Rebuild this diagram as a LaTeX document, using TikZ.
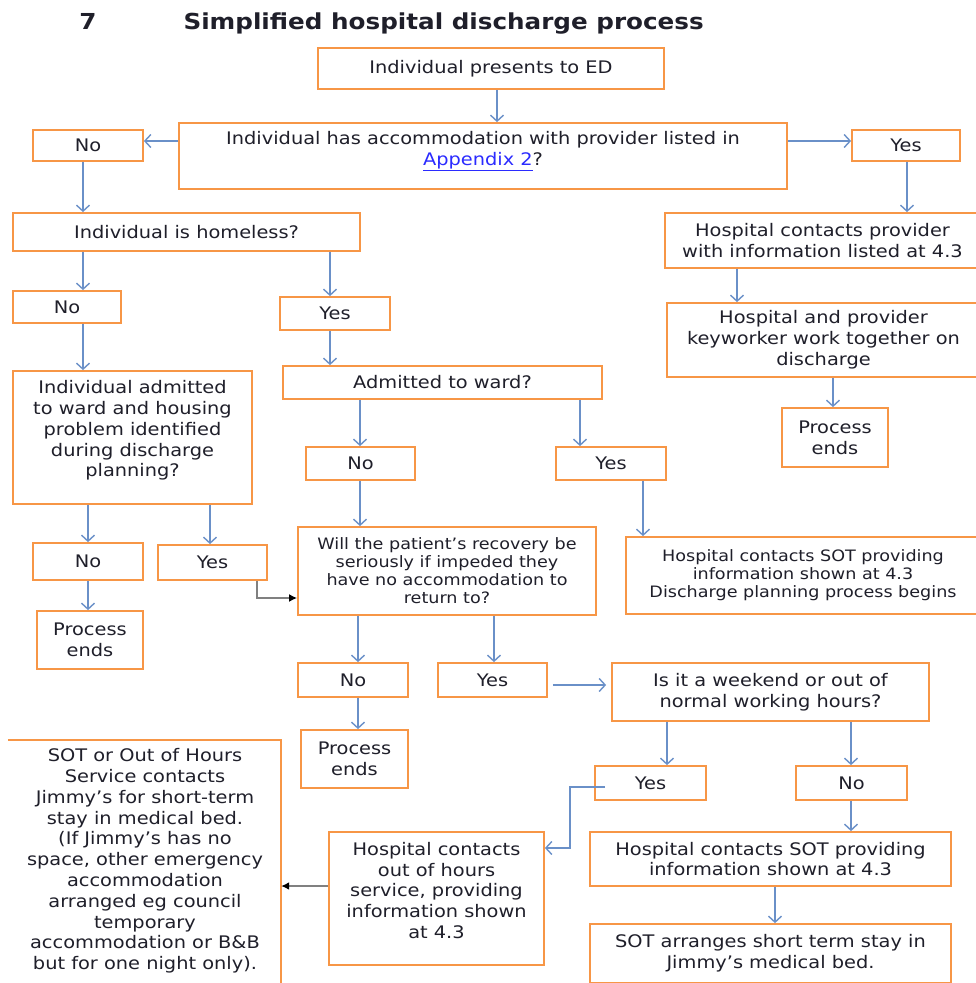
\documentclass[tikz,border=0pt]{standalone}
\usepackage{fontspec}
\setmainfont{DejaVu Sans}[FakeStretch=1.12]
\usetikzlibrary{arrows.meta}
\definecolor{boxorange}{HTML}{F79646}
\definecolor{arrowblue}{HTML}{6A90C8}
\definecolor{txt}{HTML}{1F1F2A}
\definecolor{linkblue}{HTML}{2B2BFF}
\tikzset{
  boxshape/.style={draw=boxorange, line width=1.8pt, inner sep=0pt},
  boxtext/.style={align=center, inner sep=0pt, text=txt, font=\fontsize{17.3}{20.8}\selectfont},
  smalltext/.style={font=\fontsize{15.7}{18}\selectfont},
  flow/.style={draw=arrowblue, line width=1.6pt, -{Straight Barb[length=6pt,width=13pt,line width=1.4pt]}},
  darkflow/.style={draw=gray, line width=1.6pt, -{Latex[length=8pt,width=8pt,color=black]}},
}
\newcommand\mkbox[7][]{%
  \node[boxshape, minimum width={(#5)-(#3)}, minimum height={(#6)-(#4)}] (#2) at ({((#3)+(#5))/2},{((#4)+(#6))/2}) {};
  \node[boxtext, #1] (#2t) at (#2.center) {#7};}
\begin{document}
\begin{tikzpicture}[x=1pt,y=-1pt]
\useasboundingbox (0,0) rectangle (976,983);
\fill[white] (0,0) rectangle (976,983);
% title
\node[anchor=base, text=txt, font=\fontsize{22}{26}\selectfont\bfseries] (num) at (88,29) {7};
\node[anchor=base west, text=txt, font=\fontsize{22}{26}\selectfont\bfseries] (title) at (180,29) {Simplified hospital discharge process};
% boxes
\mkbox{ed}{318}{48}{664}{89}{Individual presents to ED}
\mkbox[yshift=5pt]{acc}{179}{123}{787}{189}{Individual has accommodation with provider listed in\\\textcolor{linkblue}{\underline{Appendix 2}}?}
\mkbox{no1}{33}{130}{143}{161}{No}
\mkbox{yes1}{852}{130}{960}{161}{Yes}
\mkbox{homeless}{13}{213}{360}{251}{Individual is homeless?}
\mkbox{hcp}{665}{213}{980}{268}{Hospital contacts provider\\with information listed at 4.3}
\mkbox{no2}{13}{291}{121}{323}{No}
\mkbox{yes2}{280}{297}{390}{330}{Yes}
\mkbox{hpk}{667}{303}{980}{377}{Hospital and provider\\keyworker work together on\\discharge}
\mkbox{end1}{782}{408}{888}{467}{Process\\ends}
\mkbox[yshift=7pt]{adm}{13}{371}{252}{504}{Individual admitted\\to ward and housing\\problem identified\\during discharge\\planning?}
\mkbox{ward}{283}{366}{602}{399}{Admitted to ward?}
\mkbox{no3}{306}{447}{415}{480}{No}
\mkbox{yes3}{556}{447}{666}{480}{Yes}
\mkbox{no4}{33}{543}{143}{580}{No}
\mkbox{yes4}{158}{545}{267}{580}{Yes}
\mkbox[smalltext]{will}{298}{527}{596}{615}{Will the patient’s recovery be\\seriously if impeded they\\have no accommodation to\\return to?}
\mkbox[smalltext]{sotdis}{626}{537}{980}{614}{Hospital contacts SOT providing\\information shown at 4.3\\Discharge planning process begins}
\mkbox{end2}{37}{611}{143}{669}{Process\\ends}
\mkbox{no5}{298}{663}{408}{697}{No}
\mkbox{yes5}{438}{663}{547}{697}{Yes}
\mkbox{wkend}{612}{663}{929}{721}{Is it a weekend or out of\\normal working hours?}
\mkbox{end3}{301}{730}{408}{788}{Process\\ends}
\mkbox{yes6}{595}{766}{706}{800}{Yes}
\mkbox{no6}{796}{766}{907}{800}{No}
\mkbox{sotinfo}{590}{832}{951}{886}{Hospital contacts SOT providing\\information shown at 4.3}
\mkbox{sotbed}{590}{924}{951}{983}{SOT arranges short term stay in\\Jimmy’s medical bed.}
\mkbox[yshift=8pt]{ooh}{329}{832}{544}{965}{Hospital contacts\\out of hours\\service, providing\\information shown\\at 4.3}
% open box on the left
\node[inner sep=0pt, minimum width=273, minimum height=250] (sot) at (144.5,865) {};
\draw[boxorange, line width=1.8pt] (sot.north west) -- (sot.north east) -- (sot.south east);
\node[boxtext] (sott) at (145,861) {SOT or Out of Hours\\Service contacts\\Jimmy’s for short-term\\stay in medical bed.\\(If Jimmy’s has no\\space, other emergency\\accommodation\\arranged eg council\\temporary\\accommodation or B\&B\\but for one night only).};
% connectors
\draw[flow] (497,0 |- ed.south) -- (497,0 |- acc.north);
\draw[flow] (acc.west |- 0,141) -- (no1.east |- 0,141);
\draw[flow] (acc.east |- 0,141) -- (yes1.west |- 0,141);
\draw[flow] (83,0 |- no1.south) -- (83,0 |- homeless.north);
\draw[flow] (907,0 |- yes1.south) -- (907,0 |- hcp.north);
\draw[flow] (83,0 |- homeless.south) -- (83,0 |- no2.north);
\draw[flow] (330,0 |- homeless.south) -- (330,0 |- yes2.north);
\draw[flow] (737,0 |- hcp.south) -- (737,0 |- hpk.north);
\draw[flow] (833,0 |- hpk.south) -- (833,0 |- end1.north);
\draw[flow] (83,0 |- no2.south) -- (83,0 |- adm.north);
\draw[flow] (330,0 |- yes2.south) -- (330,0 |- ward.north);
\draw[flow] (360,0 |- ward.south) -- (360,0 |- no3.north);
\draw[flow] (580,0 |- ward.south) -- (580,0 |- yes3.north);
\draw[flow] (88,0 |- adm.south) -- (88,0 |- no4.north);
\draw[flow] (210,0 |- adm.south) -- (210,0 |- yes4.north);
\draw[flow] (88,0 |- no4.south) -- (88,0 |- end2.north);
\draw[darkflow] (257,0 |- yes4.south) -- (257,598) -- (will.west |- 0,598);
\draw[flow] (360,0 |- no3.south) -- (360,0 |- will.north);
\draw[flow] (643,0 |- yes3.south) -- (643,0 |- sotdis.north);
\draw[flow] (358,0 |- will.south) -- (358,0 |- no5.north);
\draw[flow] (494,0 |- will.south) -- (494,0 |- yes5.north);
\draw[flow] (358,0 |- no5.south) -- (358,0 |- end3.north);
\draw[flow, shorten <=5pt, shorten >=5pt] (yes5.east |- 0,685) -- (wkend.west |- 0,685);
\draw[flow] (667,0 |- wkend.south) -- (667,0 |- yes6.north);
\draw[flow] (851,0 |- wkend.south) -- (851,0 |- no6.north);
\draw[flow] (851,0 |- no6.south) -- (851,0 |- sotinfo.north);
\draw[flow] (775,0 |- sotinfo.south) -- (775,0 |- sotbed.north);
\draw[flow, shorten <=-11pt] (yes6.west |- 0,787) -- (570,787) -- (570,848) -- (ooh.east |- 0,848);
\draw[darkflow] (ooh.west |- 0,886) -- (sot.east |- 0,886);
\end{tikzpicture}
\end{document}
